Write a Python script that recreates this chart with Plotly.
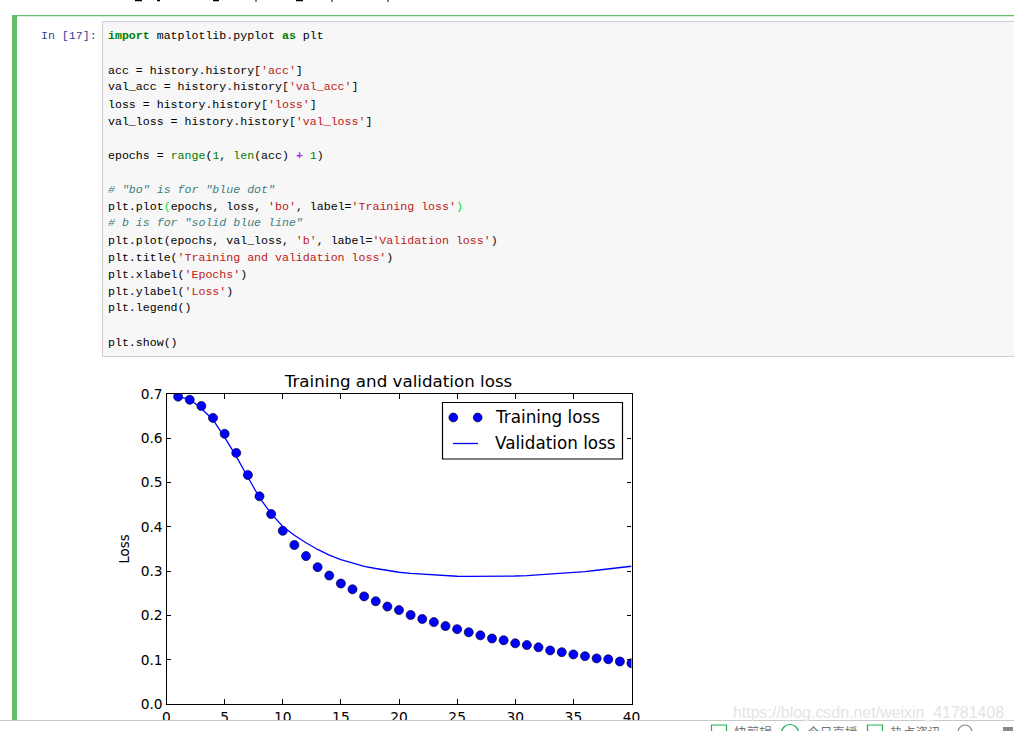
"""Notebook screenshot: training and validation loss chart below its code cell."""

import plotly.graph_objects as go

WIDTH = 1014
HEIGHT = 731

epochs = list(range(1, 41))
training_loss = [
    0.694, 0.687, 0.673, 0.646, 0.610, 0.567, 0.517, 0.469, 0.429, 0.391,
    0.359, 0.334, 0.309, 0.290, 0.272, 0.259, 0.243, 0.232, 0.220, 0.212,
    0.201, 0.192, 0.185, 0.176, 0.169, 0.162, 0.155, 0.148, 0.144, 0.137,
    0.133, 0.128, 0.121, 0.117, 0.112, 0.108, 0.103, 0.101, 0.096, 0.092,
]
validation_loss = [
    0.694, 0.688, 0.667, 0.642, 0.602, 0.559, 0.512, 0.466, 0.430, 0.401,
    0.381, 0.364, 0.349, 0.336, 0.326, 0.318, 0.311, 0.306, 0.301, 0.2975,
    0.295, 0.293, 0.2915, 0.290, 0.2885, 0.288, 0.288, 0.288, 0.2885, 0.289,
    0.290, 0.2915, 0.293, 0.295, 0.297, 0.299, 0.302, 0.305, 0.308, 0.311,
]
x_ticks = [0, 5, 10, 15, 20, 25, 30, 35, 40]
y_ticks = [0.0, 0.1, 0.2, 0.3, 0.4, 0.5, 0.6, 0.7]

KW = "#008000"
STR = "#BA2121"
COM = "#408080"


def c(text, color, bold=False, italic=False):
    out = f'<span style="color:{color}">{text}</span>'
    if bold:
        out = f"<b>{out}</b>"
    if italic:
        out = f"<i>{out}</i>"
    return out


# (line's y pixel, marked-up text)
code_lines = [
    (36, c("import", KW, bold=True) + " matplotlib.pyplot " + c("as", KW, bold=True) + " plt"),
    (70, "acc = history.history[" + c("'acc'", STR) + "]"),
    (87, "val_acc = history.history[" + c("'val_acc'", STR) + "]"),
    (104, "loss = history.history[" + c("'loss'", STR) + "]"),
    (121, "val_loss = history.history[" + c("'val_loss'", STR) + "]"),
    (155, "epochs = " + c("range", KW) + "(" + c("1", KW) + ", " + c("len", KW)
     + "(acc) " + c("+", "#AA22FF", bold=True) + " " + c("1", KW) + ")"),
    (189, c('# "bo" is for "blue dot"', COM, italic=True)),
    (206, "plt.plot" + c("(", "#00E000") + "epochs, loss, " + c("'bo'", STR) + ", label="
     + c("'Training loss'", STR) + c(")", "#00E000")),
    (223, c('# b is for "solid blue line"', COM, italic=True)),
    (240, "plt.plot(epochs, val_loss, " + c("'b'", STR) + ", label="
     + c("'Validation loss'", STR) + ")"),
    (257, "plt.title(" + c("'Training and validation loss'", STR) + ")"),
    (274, "plt.xlabel(" + c("'Epochs'", STR) + ")"),
    (291, "plt.ylabel(" + c("'Loss'", STR) + ")"),
    (308, "plt.legend()"),
    (342, "plt.show()"),
]


def px(x):
    return x / WIDTH


def py(y):
    return 1 - y / HEIGHT


def rect(x0, y0, x1, y1, fill=None, line=None, width=1, layer="below"):
    return dict(
        type="rect", xref="paper", yref="paper", layer=layer,
        x0=px(x0), x1=px(x1), y0=py(y0), y1=py(y1),
        fillcolor=fill or "rgba(0,0,0,0)",
        line=dict(color=line or "rgba(0,0,0,0)", width=width if line else 0),
    )


def seg(x0, y0, x1, y1, color, width=1, layer="below"):
    return dict(
        type="line", xref="paper", yref="paper", layer=layer,
        x0=px(x0), x1=px(x1), y0=py(y0), y1=py(y1),
        line=dict(color=color, width=width),
    )


def dot(x, y, r, fill, line=None, width=1, layer="above"):
    return dict(
        type="circle", xref="paper", yref="paper", layer=layer,
        x0=px(x - r), x1=px(x + r), y0=py(y - r), y1=py(y + r),
        fillcolor=fill,
        line=dict(color=line or fill, width=width),
    )


def label(x, y, text, size, font, color="#000000", anchor="left"):
    return dict(
        xref="paper", yref="paper", x=px(x), y=py(y), text=text, showarrow=False,
        xanchor=anchor, yanchor="middle", align="left",
        borderpad=0, borderwidth=0,
        font=dict(family=font, size=size, color=color),
    )


fig = go.Figure()
fig.add_trace(go.Scatter(
    x=epochs, y=training_loss, mode="markers", name="Training loss",
    marker=dict(color="#0000FF", size=9, line=dict(color="#000022", width=0.7)),
))
fig.add_trace(go.Scatter(
    x=epochs, y=validation_loss, mode="lines", name="Validation loss",
    line=dict(color="#0000FF", width=1.3),
))

shapes = [
    # notebook cell
    rect(12, 15, WIDTH, 16.3, fill="#66BB6A"),
    rect(12, 15, 17, 720, fill="#66BB6A"),
    rect(102.5, 21.5, WIDTH + 5, 356.5, fill="#F7F7F7", line="#CFCFCF"),
    # bits of the previous cell's last line
    seg(135, 0.5, 142, 0.5, "#000000", 1.5),
    seg(157, 0.5, 160, 0.5, "#000000", 1.5),
    seg(213, 0.5, 219, 0.5, "#000000", 1.5),
    seg(296, 0.5, 303, 0.5, "#000000", 1.5),
    seg(256, 0, 256, 2, "#000000", 1),
    seg(332, 0, 332, 2, "#000000", 1),
    seg(388, 0, 388, 2, "#000000", 1),
    # legend
    rect(442.5, 402.5, 622.5, 459, fill="#FFFFFF", line="#000000", width=1.2, layer="above"),
    dot(453.3, 417.5, 4.4, "#0000FF", "#000022", 0.7),
    dot(477.7, 417.5, 4.4, "#0000FF", "#000022", 0.7),
    seg(453, 443.5, 478, 443.5, "#0000FF", 1.3, layer="above"),
    # browser toolbar covering the page bottom
    rect(0, 720.5, WIDTH, HEIGHT + 2, fill="#FFFFFF", layer="above"),
    seg(0, 720.5, WIDTH, 720.5, "#C8C8C8", 1.2, layer="above"),
    rect(711.5, 725, 726.5, 740, line="#21B04B", width=1.2, layer="above"),
    dot(790, 733, 8.5, "#FFFFFF", "#21B04B", 1.2),
    rect(867.5, 725, 882.5, 740, line="#21B04B", width=1.2, layer="above"),
    dot(965, 732, 7, "#FFFFFF", "#888888", 1.2),
    rect(1003, 727, 1013, 740, fill="#888888", layer="above"),
]

annotations = [
    label(41, 36, "In [17]:", 11.6, "Liberation Mono", "#303F9F"),
    label(733, 712.5, "https://blog.csdn.net/weixin_41781408", 15.95, "Liberation Sans", "#E4E4E4"),
    label(734, 731, "快剪辑", 12.7, "Noto Sans CJK SC", "#777777"),
    label(807, 731, "今日直播", 12.7, "Noto Sans CJK SC", "#777777"),
    label(890, 731, "热点资讯", 12.7, "Noto Sans CJK SC", "#777777"),
    label(495, 417, "Training loss", 16.8, "DejaVu Sans"),
    label(495, 443, "Validation loss", 16.8, "DejaVu Sans"),
]
for y, text in code_lines:
    annotations.append(label(108, y, text, 11.6, "Liberation Mono"))

fig.update_layout(
    width=WIDTH,
    height=HEIGHT,
    margin=dict(l=0, r=0, t=0, b=0),
    paper_bgcolor="#FFFFFF",
    plot_bgcolor="#FFFFFF",
    showlegend=False,
    title=dict(
        text="Training and validation loss", x=px(398.5), y=py(381),
        xanchor="center", yanchor="middle", pad=dict(t=0, b=0, l=0, r=0),
        font=dict(family="DejaVu Sans", size=16.7, color="#000000"),
    ),
    shapes=shapes,
    annotations=annotations,
)
axis_style = dict(
    automargin=False,
    showgrid=False, zeroline=False, showline=True, linecolor="#000000", linewidth=1.2,
    mirror="ticks", ticks="inside", ticklen=4.5, tickwidth=0.8, tickcolor="#000000",
    tickfont=dict(family="DejaVu Sans", size=13.8, color="#000000"),
)
fig.update_xaxes(
    range=[0, 40], domain=[px(166.5), px(631.5)], tickmode="array",
    tickvals=x_ticks, ticktext=[str(t) for t in x_ticks], **axis_style,
)
fig.update_yaxes(
    range=[0, 0.7], domain=[py(704), py(394)], tickmode="array",
    tickvals=y_ticks, ticktext=[f"{t:.1f}" for t in y_ticks],
    title=dict(text="Loss", standoff=8, font=dict(family="DejaVu Sans", size=13.3, color="#000000")),
    **axis_style,
)

fig.write_html(
    "out.html",
    config={"displayModeBar": False},
    post_script="document.body.style.margin='0';",
)
